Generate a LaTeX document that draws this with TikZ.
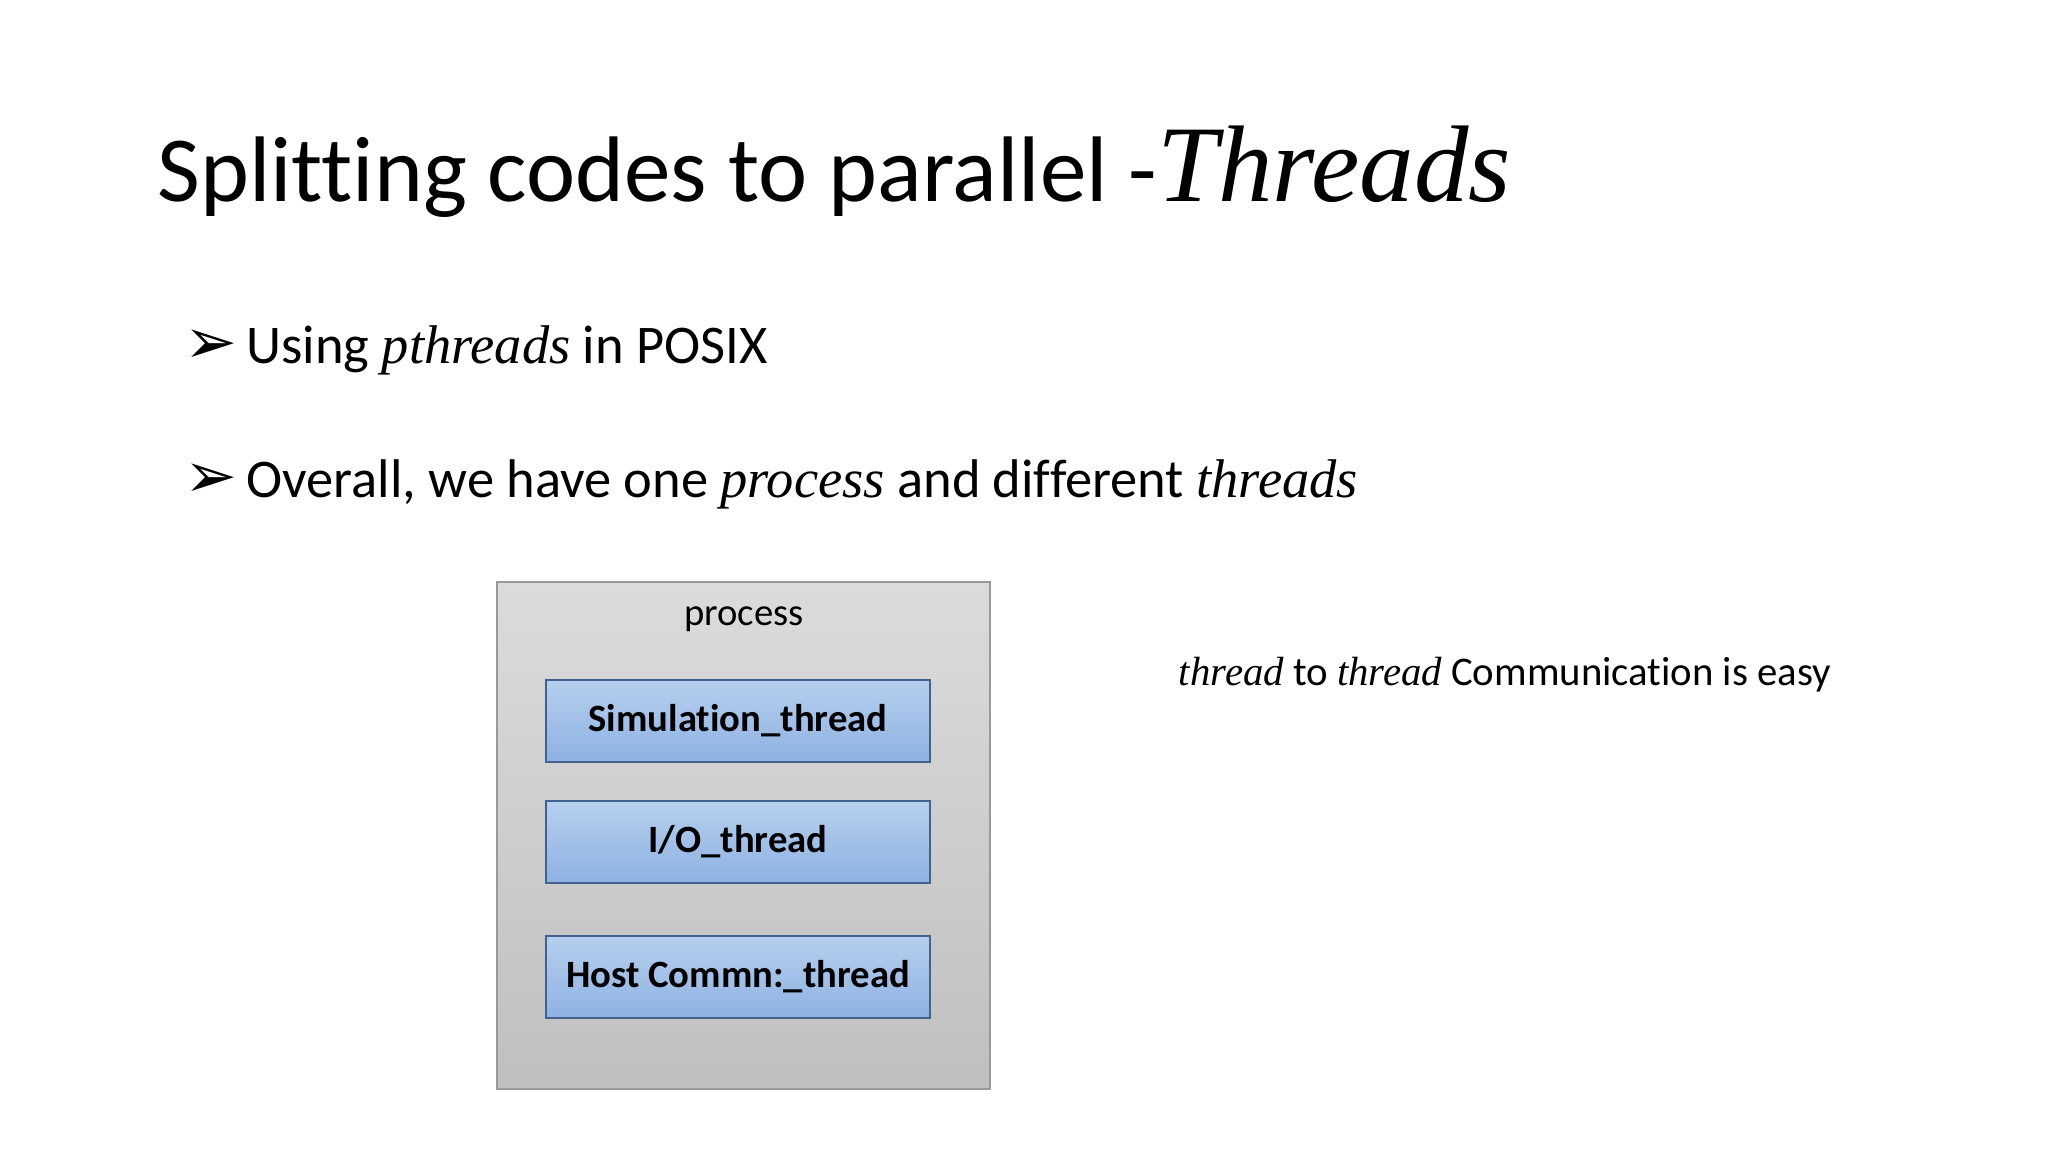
\documentclass[tikz,border=0pt]{standalone}
\usepackage{fontspec}
\setmainfont{Carlito}[Ligatures=NoCommon]
\newfontfamily\dingfont{DejaVu Sans}
\newfontfamily\serifit{Liberation Serif}
\usetikzlibrary{positioning}
\definecolor{threadtop}{HTML}{B7CFEE}
\definecolor{threadbot}{HTML}{8DB2E2}
\definecolor{threadline}{HTML}{41618F}
\newcommand{\mi}[1]{{\serifit\itshape #1}}
\begin{document}
\begin{tikzpicture}
		\useasboundingbox (0,0) rectangle (20.48,11.52);
		\tikzset{
			bullet/.style={anchor=west, font=\fontsize{15.5}{18}\selectfont},
			thread/.style={draw=threadline, top color=threadtop, bottom color=threadbot,
				minimum width=3.84cm, minimum height=0.82cm, font=\fontsize{11}{14}\selectfont\bfseries}
		}
		% title and bullets
		\node[anchor=west, font=\fontsize{26.5}{32}\selectfont] (title) at (1.45,9.80)
			{Splitting codes to parallel -{\serifit\itshape\fontsize{31}{34}\selectfont Threads}};
		\node[bullet] (b1) at (1.72,8.02) {{\dingfont\fontsize{18}{18}\selectfont ➢}\,Using \mi{pthreads} in POSIX};
		\node[bullet] (b2) at (1.72,6.68) {{\dingfont\fontsize{18}{18}\selectfont ➢}\,Overall, we have one \mi{process} and different \mi{threads}};
		% process box
		\draw[draw=gray!80, top color=gray!28, bottom color=gray!50] (4.97,0.63) rectangle (9.90,5.70);
		\node[font=\fontsize{11}{14}\selectfont] (proc) at (7.44,5.33) {process};
		\node[thread] (sim) at (7.38,4.31) {Simulation\_thread};
		\node[thread] (io) at (7.38,3.10) {I/O\_thread};
		\node[thread] (host) at (7.38,1.75) {Host Commn:\_thread};
		% note
		\node[font=\fontsize{11.6}{14}\selectfont] (note) at (15.05,4.77) {\mi{thread} to \mi{thread} Communication is easy};
	\end{tikzpicture}
\end{document}
